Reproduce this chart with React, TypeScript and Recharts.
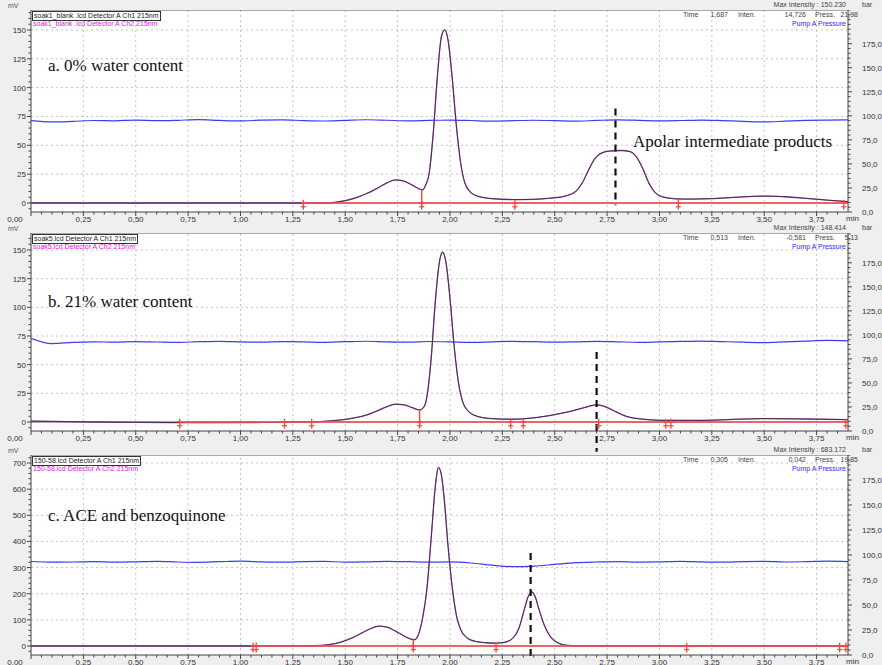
import React from "react";
import {
  ComposedChart,
  Line,
  XAxis,
  YAxis,
  CartesianGrid,
  ReferenceLine,
  Scatter,
} from "recharts";

const SANS = '"Liberation Sans", Arial, sans-serif';
const SERIF = '"Liberation Serif", "Times New Roman", serif';
const X_MAX = 3.9;

// major x ticks (min)
const xTicks = [0, 0.25, 0.5, 0.75, 1, 1.25, 1.5, 1.75, 2, 2.25, 2.5, 2.75, 3, 3.25, 3.5, 3.75];

// chromatogram traces [time min, mV]
const traceA: [number, number][] = [
  [0, 0], [1.4, 0], [1.45, 0.6], [1.5, 2], [1.55, 4.5], [1.6, 8], [1.65, 12.5], [1.7, 17.5],
  [1.74, 20], [1.78, 19], [1.82, 15.5], [1.85, 12.5], [1.87, 11.5], [1.885, 16], [1.9, 25],
  [1.92, 60], [1.94, 110], [1.96, 145], [1.975, 150], [1.99, 142], [2.01, 110], [2.03, 68],
  [2.05, 36], [2.07, 18], [2.1, 9], [2.14, 5.5], [2.2, 3.8], [2.3, 3], [2.4, 3.2], [2.48, 4.2],
  [2.55, 6], [2.6, 10], [2.63, 17], [2.66, 28], [2.69, 38], [2.72, 43], [2.76, 45], [2.82, 45.5],
  [2.86, 44.5], [2.89, 40], [2.92, 30], [2.95, 17], [2.98, 9], [3.02, 5], [3.08, 3.6], [3.15, 3.4],
  [3.25, 3.8], [3.35, 4.8], [3.45, 5.8], [3.52, 6], [3.6, 5.4], [3.7, 4], [3.8, 2.5], [3.9, 1.2],
];
const traceB: [number, number][] = [
  [0, 0.8], [0.1, 0.5], [0.3, 0], [0.5, -0.3], [0.8, -0.6], [1.1, -0.4], [1.3, 0], [1.4, 0.6],
  [1.48, 1.8], [1.55, 3.8], [1.6, 6], [1.65, 9.5], [1.7, 13.5], [1.74, 15.5], [1.78, 15],
  [1.82, 12.5], [1.855, 10.5], [1.875, 13], [1.89, 22], [1.91, 55], [1.93, 105], [1.95, 140],
  [1.965, 148], [1.98, 140], [2.0, 108], [2.02, 66], [2.04, 35], [2.06, 18], [2.09, 9], [2.13, 5],
  [2.2, 3], [2.3, 2.4], [2.4, 3.6], [2.5, 6.5], [2.58, 9.5], [2.64, 12.5], [2.7, 15], [2.74, 13.5],
  [2.78, 10], [2.82, 6.5], [2.86, 4], [2.92, 2.5], [3.0, 1.5], [3.2, 1.4], [3.35, 2.3], [3.5, 3],
  [3.7, 2.6], [3.9, 2],
];
const traceC: [number, number][] = [
  [0, 0], [1.25, 0], [1.35, 1], [1.42, 5], [1.48, 15], [1.53, 30], [1.58, 50], [1.62, 66],
  [1.66, 76], [1.7, 72], [1.74, 57], [1.78, 39], [1.81, 27], [1.83, 24], [1.85, 45], [1.87, 110],
  [1.89, 220], [1.91, 410], [1.93, 610], [1.945, 683], [1.96, 650], [1.975, 540], [1.99, 390],
  [2.01, 230], [2.03, 120], [2.05, 65], [2.08, 32], [2.12, 18], [2.17, 12.5], [2.22, 11],
  [2.26, 14], [2.3, 30], [2.33, 70], [2.355, 140], [2.375, 192], [2.39, 207], [2.405, 192],
  [2.425, 140], [2.45, 80], [2.48, 35], [2.52, 10], [2.56, 2.5], [2.62, 0.5], [2.8, 0], [3.9, 0],
];

// pump A pressure (bar), one value every 0.1 min
const pressA = [
  95.0, 93.6, 94.2, 95.1, 94.8, 95.6, 94.9, 95.3, 96.0, 95.2, 94.7, 95.5, 95.8, 95.0, 94.6, 95.3,
  95.9, 95.4, 94.8, 95.2, 95.6, 95.1, 94.4, 94.9, 95.4, 95.0, 94.5, 95.2, 95.7, 95.3, 94.8, 95.1,
  95.6, 95.0, 94.2, 93.6, 94.4, 95.2, 95.6, 95.8,
];
const pressB = [
  96.5, 91.0, 92.2, 92.8, 92.4, 93.0, 92.6, 92.2, 92.9, 93.3, 92.7, 92.4, 93.0, 92.8, 92.3, 92.9,
  93.4, 92.8, 92.5, 93.1, 92.7, 92.2, 92.8, 93.3, 92.9, 92.4, 92.7, 93.2, 92.8, 92.3, 92.7, 93.2,
  93.6, 93.0, 92.4, 92.0, 92.8, 93.6, 94.2, 93.8,
];
const pressC = [
  93.5, 92.8, 93.0, 93.4, 92.9, 93.2, 93.6, 93.0, 92.7, 93.3, 93.8, 93.1, 92.8, 93.4, 93.6, 92.9,
  93.2, 93.7, 93.3, 92.8, 93.1, 92.0, 89.8, 88.4, 88.9, 90.6, 92.3, 93.0, 93.4, 92.9, 93.2, 93.7,
  93.1, 92.8, 93.4, 93.6, 93.0, 93.3, 93.8, 93.4,
];

// integration marks (min)
const marksA = [1.3, 1.865, 2.31, 3.09, 3.88];
const marksB = [0.71, 1.21, 1.34, 1.855, 2.29, 2.35, 2.71, 3.03, 3.055, 3.89];
const marksC = [1.06, 1.075, 1.825, 2.22, 3.13, 3.86, 3.89];

interface PanelCfg {
  top: number;
  bottom: number;
  yMin: number;
  yMax: number;
  yMajor: number;
  yMinor: number;
  yLabelMax: number;
  rMax: number;
  trace: [number, number][];
  press: number[];
  redStart: number;
  marks: number[];
  markY: number;
  drop: [number, number];
  dash: [number, number, number];
  file: string;
  maxInt: string;
  time: string;
  inten: string;
  pr: string;
}

const panels: PanelCfg[] = [
  {
    top: 10, bottom: 212, yMin: -7.8, yMax: 167.3, yMajor: 25, yMinor: 5, yLabelMax: 150, rMax: 210,
    trace: traceA, press: pressA, redStart: 1.3, marks: marksA, markY: -1.5, drop: [1.865, 11.5],
    dash: [2.79, 82, -2], file: "soak1_blank .lcd Detector A", maxInt: "150.230",
    time: "1,687", inten: "14,726", pr: "21,98",
  },
  {
    top: 233, bottom: 431, yMin: -7.85, yMax: 164.8, yMajor: 25, yMinor: 5, yLabelMax: 150, rMax: 206,
    trace: traceB, press: pressB, redStart: 0.71, marks: marksB, markY: -1.5, drop: [1.855, 10.5],
    dash: [2.7, 61, -26], file: "soak5.lcd Detector A", maxInt: "148.414",
    time: "0,513", inten: "-0,581", pr: "5,13",
  },
  {
    top: 455, bottom: 655, yMin: -34.4, yMax: 730.6, yMajor: 100, yMinor: 20, yLabelMax: 700, rMax: 200,
    trace: traceC, press: pressC, redStart: 1.06, marks: marksC, markY: -6, drop: [1.825, 24],
    dash: [2.385, 356, -54], file: "150-58.lcd Detector A", maxInt: "683.172",
    time: "0,305", inten: "0,042", pr: "19,85",
  },
];

const steps = (from: number, to: number, step: number) => {
  const out: number[] = [];
  for (let v = from; v <= to + 1e-9; v += step) out.push(Math.round(v * 1000) / 1000);
  return out;
};
const isMult = (v: number, m: number) => Math.abs(v / m - Math.round(v / m)) < 1e-6;

const RedMark = (props: any) => {
  const { cx, cy } = props;
  if (cx == null || cy == null) return null;
  return (
    <g stroke="#ff4545" strokeWidth={1.3}>
      <line x1={cx} x2={cx} y1={cy - 5} y2={cy + 5} />
      <line x1={cx - 2.5} x2={cx + 2.5} y1={cy - 2} y2={cy - 2} />
      <line x1={cx - 2.5} x2={cx + 2.5} y1={cy + 2} y2={cy + 2} />
    </g>
  );
};

function Panel({ cfg }: { cfg: PanelCfg }) {
  const h = cfg.bottom - cfg.top;
  const H = h + 24;
  const traceData = cfg.trace.map(([t, v]) => ({ t, v }));
  const pressData = cfg.press.map((v, i) => ({ t: i / 10, v }));
  const markData = cfg.marks.map((t) => ({ t, v: cfg.markY }));
  const xAll = steps(0, 3.85, 0.05);
  const yStart = Math.ceil(cfg.yMin / cfg.yMinor) * cfg.yMinor;
  const yAll = steps(yStart, cfg.yMax, cfg.yMinor);
  const rAll = steps(0, cfg.rMax, 5);
  const yMajors = yAll.filter((v) => v > 0 && v <= cfg.yLabelMax && isMult(v, cfg.yMajor));

  const XTick = ({ x, y, payload }: any) => {
    const v = payload.value;
    const major = isMult(v, 0.25);
    return (
      <g>
        <line x1={x} x2={x} y1={y} y2={y + (major ? 4 : 2.5)} stroke="#444" />
        {major && (
          <text x={x + (v === 0 ? -16 : 0)} y={y + 10} textAnchor="middle" fontSize={8} fill="#333" fontFamily={SANS}>
            {v.toFixed(2).replace(".", ",")}
          </text>
        )}
      </g>
    );
  };
  const LTick = ({ x, y, payload }: any) => {
    const v = payload.value;
    const major = isMult(v, cfg.yMajor) && v >= 0 && v <= cfg.yLabelMax;
    return (
      <g>
        <line x1={x} x2={x - (major ? 4 : 2.5)} y1={y} y2={y} stroke="#444" />
        {major && (
          <text x={x - 5} y={y + 3} textAnchor="end" fontSize={8} fill="#333" fontFamily={SANS}>
            {v}
          </text>
        )}
      </g>
    );
  };
  const RTick = ({ x, y, payload }: any) => {
    const v = payload.value;
    const major = isMult(v, 25) && v <= 175;
    return (
      <g>
        <line x1={x} x2={x + (major ? 4 : 2.5)} y1={y} y2={y} stroke="#444" />
        {major && (
          <text x={x + 14} y={y + 3} textAnchor="start" fontSize={8} fill="#333" fontFamily={SANS}>
            {v.toFixed(1).replace(".", ",")}
          </text>
        )}
      </g>
    );
  };

  const small = { position: "absolute" as const, fontSize: 7, lineHeight: "8px", whiteSpace: "nowrap" as const, fontFamily: SANS };

  return (
    <>
      <div style={{ position: "absolute", left: 0, top: cfg.top, width: 882, height: H }}>
        <ComposedChart width={882} height={H} margin={{ top: 0, right: 0, bottom: 0, left: 0 }}>
          <CartesianGrid xAxisId="x" yAxisId="l" fill="#ffffff" horizontal={false} vertical={false} />
          <XAxis
            xAxisId="x" type="number" dataKey="t" domain={[0, X_MAX]} ticks={xAll} interval={0}
            allowDataOverflow height={24} tickSize={0} tickMargin={0} tickLine={false}
            axisLine={{ stroke: "#444" }} tick={<XTick />}
          />
          <YAxis
            yAxisId="l" orientation="left" type="number" domain={[cfg.yMin, cfg.yMax]} ticks={yAll}
            interval={0} allowDataOverflow width={31} tickSize={0} tickMargin={0} tickLine={false}
            axisLine={{ stroke: "#444" }} tick={<LTick />}
          />
          <YAxis
            yAxisId="r" orientation="right" type="number" domain={[0, cfg.rMax]} ticks={rAll}
            interval={0} allowDataOverflow width={34} tickSize={0} tickMargin={0} tickLine={false}
            axisLine={{ stroke: "#444" }} tick={<RTick />}
          />
          {xTicks.filter((t) => t > 0).map((t) => (
            <ReferenceLine key={"gx" + t} xAxisId="x" yAxisId="l" x={t} stroke="#c4c4c4" strokeDasharray="2 3" />
          ))}
          {yMajors.map((v) => (
            <ReferenceLine key={"gy" + v} xAxisId="x" yAxisId="l" y={v} stroke="#c4c4c4" strokeDasharray="2 3" />
          ))}
          <ReferenceLine xAxisId="x" yAxisId="l" y={cfg.yMax} stroke="#555" />
          <ReferenceLine xAxisId="x" yAxisId="l" y={0} stroke="#555" strokeWidth={1.2} />
          <Line
            data={pressData} dataKey="v" xAxisId="x" yAxisId="r" type="monotone" stroke="#3d3df0"
            strokeWidth={1.2} dot={false} activeDot={false} isAnimationActive={false}
          />
          <Line
            data={traceData} dataKey="v" xAxisId="x" yAxisId="l" type="monotone" stroke="#a345b8"
            strokeWidth={1.3} dot={false} activeDot={false} isAnimationActive={false}
          />
          <Line
            data={traceData} dataKey="v" xAxisId="x" yAxisId="l" type="monotone" stroke="#222"
            strokeOpacity={0.7} strokeWidth={1} dot={false} activeDot={false} isAnimationActive={false}
          />
          <ReferenceLine
            xAxisId="x" yAxisId="l" segment={[{ x: cfg.redStart, y: 0 }, { x: X_MAX, y: 0 }]}
            stroke="#ff5050" strokeWidth={1.7}
          />
          <ReferenceLine
            xAxisId="x" yAxisId="l" segment={[{ x: cfg.drop[0], y: cfg.drop[1] }, { x: cfg.drop[0], y: cfg.markY * 2 }]}
            stroke="#ff4040" strokeWidth={1.4}
          />
          <Scatter
            data={markData} dataKey="v" xAxisId="x" yAxisId="l" shape={<RedMark />} isAnimationActive={false}
          />
          <ReferenceLine
            xAxisId="x" yAxisId="l" ifOverflow="visible"
            segment={[{ x: cfg.dash[0], y: cfg.dash[1] }, { x: cfg.dash[0], y: cfg.dash[2] }]}
            stroke="#111" strokeWidth={2.2} strokeDasharray="7 5"
          />
        </ComposedChart>
      </div>
      <div style={{ ...small, left: 8, top: cfg.top - 8, color: "#555" }}>mV</div>
      <div style={{ ...small, right: 36, top: cfg.top - 9, color: "#444" }}>Max Intensity : {cfg.maxInt}</div>
      <div style={{ ...small, left: 862, top: cfg.top - 9, color: "#444" }}>bar</div>
      <div style={{ ...small, left: 32, top: cfg.top + 1, color: "#222", border: "1px solid #333", padding: "0 1px", background: "#fff" }}>
        {cfg.file} Ch1 215nm
      </div>
      <div style={{ ...small, left: 33, top: cfg.top + 10, color: "#e020e0" }}>{cfg.file} Ch2 215nm</div>
      <div style={{ ...small, left: 683, top: cfg.top + 1, color: "#444" }}>Time</div>
      <div style={{ ...small, right: 154, top: cfg.top + 1, color: "#444" }}>{cfg.time}</div>
      <div style={{ ...small, left: 738, top: cfg.top + 1, color: "#444" }}>Inten.</div>
      <div style={{ ...small, right: 76, top: cfg.top + 1, color: "#444" }}>{cfg.inten}</div>
      <div style={{ ...small, left: 815, top: cfg.top + 1, color: "#444" }}>Press.</div>
      <div style={{ ...small, right: 24, top: cfg.top + 1, color: "#444" }}>{cfg.pr}</div>
      <div style={{ ...small, right: 36, top: cfg.top + 10, color: "#2a2aff" }}>Pump A Pressure</div>
      <div style={{ ...small, left: 846, top: cfg.bottom + 3, color: "#333", fontSize: 8 }}>min</div>
    </>
  );
}

const captionStyle = {
  position: "absolute" as const,
  fontFamily: SERIF,
  fontSize: 17,
  color: "#111",
  whiteSpace: "nowrap" as const,
  lineHeight: "20px",
};

export default function App() {
  return (
    <div
      style={{
        position: "fixed", left: 0, top: 0, width: 882, height: 665, background: "#efefef",
        overflow: "hidden", fontFamily: SANS,
      }}
    >
      {panels.map((cfg, i) => (
        <Panel key={i} cfg={cfg} />
      ))}
      <div style={{ ...captionStyle, left: 48, top: 56 }}>a. 0% water content</div>
      <div style={{ ...captionStyle, left: 633, top: 132 }}>Apolar intermediate products</div>
      <div style={{ ...captionStyle, left: 48, top: 292 }}>b. 21% water content</div>
      <div style={{ ...captionStyle, left: 48, top: 506 }}>c. ACE and benzoquinone</div>
    </div>
  );
}
